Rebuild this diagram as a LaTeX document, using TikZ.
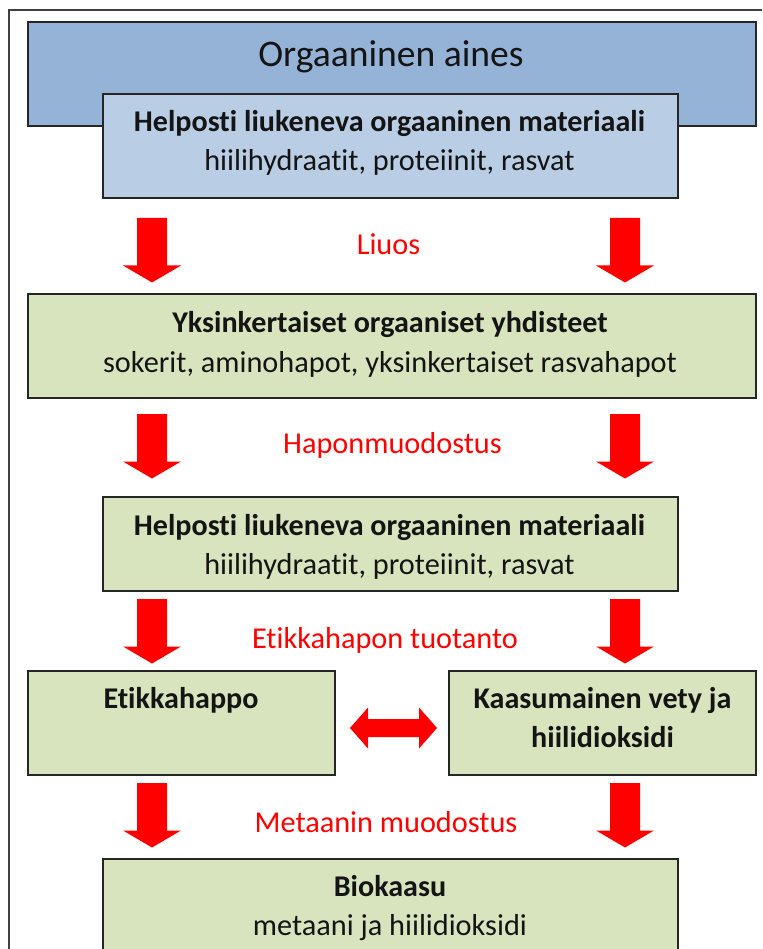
\documentclass[tikz,border=0pt]{standalone}
\usepackage{fontspec}
\setmainfont[Ligatures=NoCommon]{Carlito}
\definecolor{titleblue}{HTML}{95B3D7}
\definecolor{lightblue}{HTML}{B9CDE5}
\definecolor{boxgreen}{HTML}{D7E4BD}
\definecolor{boxline}{HTML}{262626}
\definecolor{framegray}{HTML}{404040}
\definecolor{arrowred}{HTML}{FF0000}
\definecolor{txt}{HTML}{141414}
\begin{document}
\begin{tikzpicture}[x=1pt,y=-1pt,
  box/.style={draw=boxline,line width=1.6pt,inner sep=0pt,outer sep=0pt},
  bluebox/.style={box,fill=titleblue},
  lbluebox/.style={box,fill=lightblue},
  greenbox/.style={box,fill=boxgreen},
  wide/.style={minimum width=728pt},
  narrow/.style={minimum width=575pt},
  half/.style={minimum width=307pt},
  tall/.style={minimum height=104pt},
  bodytxt/.style={anchor=base,inner sep=0pt,text=txt,font=\fontsize{30.3}{39}\selectfont},
  boldtxt/.style={bodytxt,font=\fontsize{30.1}{39}\selectfont\bfseries},
  titletxt/.style={anchor=base,inner sep=0pt,text=txt,font=\fontsize{37.6}{44}\selectfont},
  steplabel/.style={anchor=base,inner sep=0pt,text=arrowred,font=\fontsize{30.3}{39}\selectfont},
  downarr/.pic={\fill[arrowred] (-15,0) -- (15,0) -- (15,47.5) -- (29,47.5) -- (0,64.5) -- (-29,47.5) -- (-15,47.5) -- cycle;}
]
\clip (0,0) rectangle (762,949);
\fill[white] (0,0) rectangle (762,949);
% outer frame
\draw[framegray,line width=2pt] (9,10) rectangle (790,990);

% boxes
\node[bluebox,wide,tall] (title) at (392,74) {};
\node[lbluebox,narrow,tall] (easy) at (390.5,146) {};
\node[greenbox,wide,tall] (simple) at (392,346) {};
\node[greenbox,narrow,minimum height=94pt] (easy2) at (390.5,544) {};
\node[greenbox,half,tall] (acetic) at (181.5,723) {};
\node[greenbox,half,tall] (gas) at (602.5,723) {};
\node[greenbox,narrow,tall] (biogas) at (390.5,911) {};

% texts
\node[titletxt] (t0) at (391,67) {Orgaaninen aines};
\node[boldtxt] (t1a) at (389.5,132) {Helposti liukeneva orgaaninen materiaali};
\node[bodytxt] (t1b) at (389.5,171) {hiilihydraatit, proteiinit, rasvat};
\node[boldtxt] (t2a) at (390,332) {Yksinkertaiset orgaaniset yhdisteet};
\node[bodytxt] (t2b) at (390,372) {sokerit, aminohapot, yksinkertaiset rasvahapot};
\node[boldtxt] (t3a) at (389.5,535) {Helposti liukeneva orgaaninen materiaali};
\node[bodytxt] (t3b) at (389.5,574) {hiilihydraatit, proteiinit, rasvat};
\node[boldtxt] (t4) at (181,708) {Etikkahappo};
\node[boldtxt] (t5a) at (602.5,708) {Kaasumainen vety ja};
\node[boldtxt] (t5b) at (602.5,747) {hiilidioksidi};
\node[boldtxt] (t6a) at (390,896) {Biokaasu};
\node[bodytxt] (t6b) at (390,935) {metaani ja hiilidioksidi};

% step labels
\node[steplabel] (l1) at (388.5,255) {Liuos};
\node[steplabel] (l2) at (392.5,453) {Haponmuodostus};
\node[steplabel] (l3) at (385,648) {Etikkahapon tuotanto};
\node[steplabel] (l4) at (386,832) {Metaanin muodostus};

% block arrows
\pic at (152,218) {downarr};
\pic at (625,218) {downarr};
\pic at (152,414) {downarr};
\pic at (625,414) {downarr};
\pic at (152,599) {downarr};
\pic at (625,599) {downarr};
\pic at (152,783) {downarr};
\pic at (625,783) {downarr};

% double arrow between acetic and gas
\fill[arrowred] (350,728) -- (368,707.5) -- (368,719) -- (419,719) -- (419,707.5)
  -- (437,728) -- (419,748.5) -- (419,737) -- (368,737) -- (368,748.5) -- cycle;
\end{tikzpicture}
\end{document}
